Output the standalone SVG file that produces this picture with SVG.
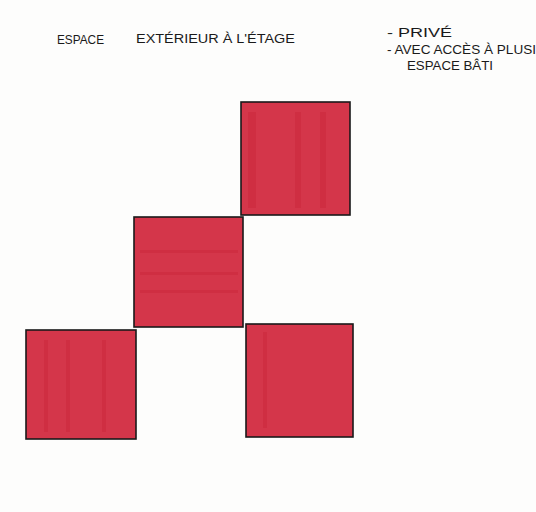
<svg xmlns="http://www.w3.org/2000/svg" width="536" height="512" viewBox="0 0 536 512">
<style>
.sq{fill:#d4364a;stroke:#1a1a1a;stroke-width:1.6}
.st{fill:#c51f33;opacity:0.3}
.t{font-family:"Liberation Sans",Arial,sans-serif;fill:#1a1a1a;font-size:12px}
</style>
<rect width="536" height="512" fill="#fdfdfc"/>
<g id="title">
<text class="t" x="57" y="44" font-size="11" textLength="47" lengthAdjust="spacingAndGlyphs">ESPACE</text>
<text class="t" x="136" y="43" font-size="14.5" textLength="159" lengthAdjust="spacingAndGlyphs">EXTÉRIEUR À L'ÉTAGE</text>
</g>
<g id="notes">
<text class="t" x="387" y="37" font-size="12" textLength="65" lengthAdjust="spacingAndGlyphs">- PRIVÉ</text>
<text class="t" x="387" y="54" font-size="12" textLength="149" lengthAdjust="spacingAndGlyphs">- AVEC ACCÈS À PLUSI</text>
<text class="t" x="407" y="70" font-size="12" textLength="86" lengthAdjust="spacingAndGlyphs">ESPACE BÂTI</text>
</g>
<g id="square-top">
<rect class="sq" x="241" y="102" width="109" height="113"/>
<rect class="st" x="248" y="112" width="8" height="96"/>
<rect class="st" x="295" y="112" width="6" height="96"/>
<rect class="st" x="320" y="112" width="6" height="96"/>
</g>
<g id="square-middle">
<rect class="sq" x="134" y="217" width="109" height="110"/>
<rect class="st" x="140" y="250" width="98" height="3"/>
<rect class="st" x="140" y="272" width="98" height="3"/>
<rect class="st" x="140" y="290" width="98" height="3"/>
</g>
<g id="square-bottom-left">
<rect class="sq" x="26" y="330" width="110" height="109"/>
<rect class="st" x="44" y="340" width="4" height="92"/>
<rect class="st" x="66" y="340" width="4" height="92"/>
<rect class="st" x="102" y="340" width="4" height="92"/>
</g>
<g id="square-bottom-right">
<rect class="sq" x="246" y="324" width="107" height="113"/>
<rect class="st" x="263" y="332" width="4" height="96"/>
</g>
</svg>
